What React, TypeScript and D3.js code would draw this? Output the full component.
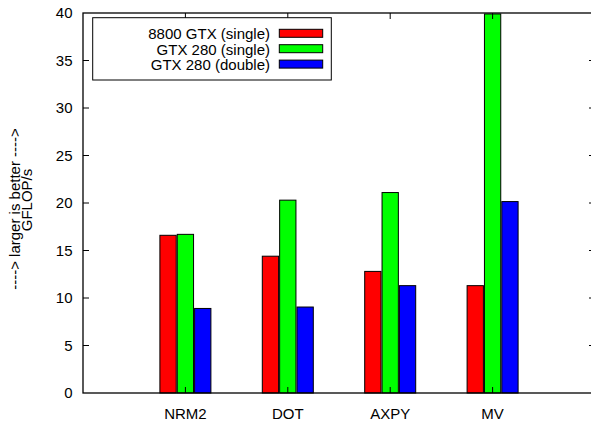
import React from 'react';
import * as d3 from 'd3';

const categories = ['NRM2', 'DOT', 'AXPY', 'MV'];
const seriesNames = ['8800 GTX (single)', 'GTX 280 (single)', 'GTX 280 (double)'];
const seriesColors = ['#ff0000', '#00ff00', '#0000ff'];
const gtx8800Single = [16.6, 14.4, 12.8, 11.3];
const gtx280Single = [16.7, 20.3, 21.1, 39.9];
const gtx280Double = [8.9, 9.05, 11.3, 20.15];
const yTicks = [0, 5, 10, 15, 20, 25, 30, 35, 40];

const W = 591;
const H = 421;
const margin = { top: 13, right: -4, bottom: 28, left: 83 };
const font = '"Liberation Sans", Arial, Helvetica, sans-serif';

const App = () => {
  const values = [gtx8800Single, gtx280Single, gtx280Double];

  const x = d3.scaleLinear().domain([0, 5]).range([margin.left, W - margin.right]);
  const y = d3.scaleLinear().domain([0, 40]).range([H - margin.bottom, margin.top]);
  const sub = d3.scaleBand<number>().domain([0, 1, 2]).range([-25.5, 25.5]).paddingInner(0.06);

  const x0 = x(0);
  const x1 = x(5);
  const yTop = y(40);
  const yBot = y(0);

  return (
    <svg
      width={W}
      height={H}
      style={{ position: 'absolute', left: 0, top: 0, background: '#fff' }}
      fontFamily={font}
    >
      {/* bars */}
      {categories.map((c, ci) =>
        values.map((vals, si) => (
          <rect
            key={c + si}
            x={x(ci + 1) + (sub(si) as number)}
            y={y(vals[ci])}
            width={sub.bandwidth()}
            height={yBot - y(vals[ci])}
            fill={seriesColors[si]}
            stroke="#000"
            strokeWidth={1}
          />
        ))
      )}

      {/* border */}
      <rect x={x0} y={yTop} width={x1 - x0} height={yBot - yTop} fill="none" stroke="#000" strokeWidth={1.3} />

      {/* y ticks */}
      {yTicks.map(t => (
        <g key={'y' + t}>
          {t > 0 && t < 40 && (
            <>
              <line x1={x0} x2={x0 + 6} y1={y(t)} y2={y(t)} stroke="#000" strokeWidth={1} />
              <line x1={x1 - 6} x2={x1} y1={y(t)} y2={y(t)} stroke="#000" strokeWidth={1} />
            </>
          )}
          <text x={72.5} y={y(t)} dy="0.36em" textAnchor="end" fontSize={15} fill="#000">
            {t}
          </text>
        </g>
      ))}

      {/* x ticks */}
      {categories.map((c, ci) => (
        <g key={'x' + c}>
          <line x1={x(ci + 1)} x2={x(ci + 1)} y1={yBot} y2={yBot - 6} stroke="#000" strokeWidth={1} />
          <line x1={x(ci + 1)} x2={x(ci + 1)} y1={yTop} y2={yTop + 6} stroke="#000" strokeWidth={1} />
          <text x={x(ci + 1)} y={419} textAnchor="middle" fontSize={15} fill="#000">
            {c}
          </text>
        </g>
      ))}

      {/* y label */}
      <text transform="translate(19.5,209) rotate(-90)" textAnchor="middle" fontSize={15} fill="#000">
        ----&gt; larger is better ----&gt;
      </text>
      <text transform="translate(32,200) rotate(-90)" textAnchor="middle" fontSize={15} fill="#000">
        GFLOP/s
      </text>

      {/* legend */}
      <rect x={92.7} y={17.7} width={238.6} height={62.3} fill="#fff" stroke="#000" strokeWidth={1} />
      {seriesNames.map((s, si) => (
        <g key={'l' + si}>
          <text x={270} y={39.3 + si * 15.4} textAnchor="end" fontSize={15} fill="#000">
            {s}
          </text>
          <rect
            x={279.3}
            y={29.3 + si * 15.4}
            width={43.4}
            height={8}
            fill={seriesColors[si]}
            stroke="#000"
            strokeWidth={1}
          />
        </g>
      ))}
    </svg>
  );
};

export default App;
